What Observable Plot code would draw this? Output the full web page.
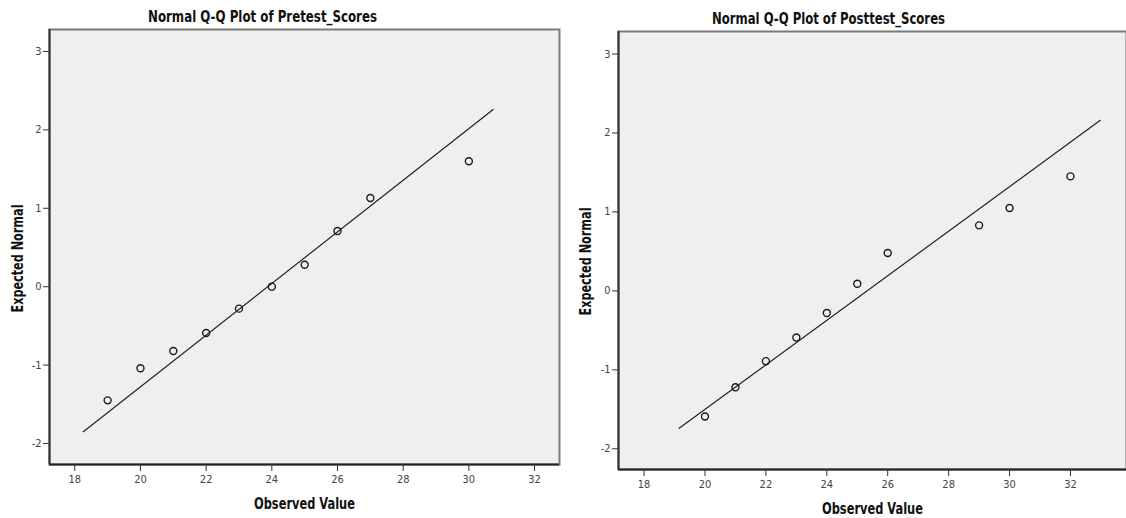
<!DOCTYPE html>
<html><head><meta charset="utf-8">
<script src="https://cdn.jsdelivr.net/npm/d3@7"></script>
<script src="https://cdn.jsdelivr.net/npm/@observablehq/plot@0.6"></script>
<style>
body{margin:0;background:#fff;}
#wrap{position:relative;width:1126px;height:518px;overflow:hidden;background:#fff;}
#left{position:absolute;left:0;top:0;}
#right{position:absolute;left:560px;top:0;}
</style></head><body>
<div id="wrap"><div id="left"></div><div id="right"></div></div>
<script>
// Pretest panel
const pretestTitle = "Normal Q-Q Plot of Pretest_Scores";
const pretestObserved = [19, 20, 21, 22, 23, 24, 25, 26, 27, 30];
const pretestExpected = [-1.45, -1.04, -0.82, -0.59, -0.28, 0.00, 0.28, 0.71, 1.13, 1.60];
const pretestLineX = [18.26, 30.74];
const pretestLineY = [-1.85, 2.26];

// Posttest panel
const posttestTitle = "Normal Q-Q Plot of Posttest_Scores";
const posttestObserved = [20, 21, 22, 23, 24, 25, 26, 29, 30, 32];
const posttestExpected = [-1.59, -1.22, -0.89, -0.59, -0.28, 0.09, 0.48, 0.83, 1.05, 1.45];
const posttestLineX = [19.15, 32.98];
const posttestLineY = [-1.74, 2.16];

// Shared axis ticks and labels
const xTicks = [18, 20, 22, 24, 26, 28, 30, 32];
const yTicks = [-2, -1, 0, 1, 2, 3];
const xLabel = "Observed Value";
const yLabel = "Expected Normal";

const FONT = "'Liberation Sans Narrow', 'Arial Narrow', 'DejaVu Sans Condensed', sans-serif";

function squeeze(svg, cls, len) {
  d3.select(svg).selectAll("." + cls + " text")
    .attr("textLength", len).attr("lengthAdjust", "spacingAndGlyphs");
}

function panel(cfg) {
  const pts = cfg.observed.map((x, i) => ({x, y: cfg.expected[i]}));
  const line = cfg.lineX.map((x, i) => ({x, y: cfg.lineY[i]}));
  const svg = Plot.plot({
    width: cfg.width, height: 518,
    marginLeft: cfg.ml, marginRight: cfg.mr, marginTop: cfg.mt, marginBottom: cfg.mb,
    style: {fontFamily: FONT, background: "transparent", overflow: "visible"},
    x: {domain: cfg.xDomain, axis: null},
    y: {domain: cfg.yDomain, axis: null},
    marks: [
      Plot.frame({fill: "#efefef", stroke: "#7a7a7a", strokeWidth: 2}),
      Plot.ruleX([cfg.xDomain[0]], {stroke: "#333", strokeWidth: 2}),
      Plot.ruleY([cfg.yDomain[0]], {stroke: "#222", strokeWidth: 2}),
      Plot.axisX({ticks: xTicks, tickSize: 7, tickPadding: 4, tickFormat: d => String(d), fontSize: 11, label: null, stroke: "#333", fill: "#444"}),
      Plot.axisY({ticks: yTicks, tickSize: 6, tickPadding: 2, tickFormat: d => String(d), fontSize: 11, label: null, stroke: "#333", fill: "#444"}),
      Plot.line(line, {x: "x", y: "y", stroke: "#222", strokeWidth: 1.2}),
      Plot.dot(pts, {x: "x", y: "y", r: 3.5, stroke: "#1a1a1a", strokeWidth: 1.4, fill: "none"}),
      Plot.text([cfg.title], {className: "ttl", frameAnchor: "top", text: d => d, dx: cfg.titleDx, dy: cfg.titleDy, fontSize: 16, fontWeight: "bold", fontFamily: FONT, fill: "#111", textAnchor: "middle", lineAnchor: "middle"}),
      Plot.text([xLabel], {className: "xlab", frameAnchor: "bottom", text: d => d, dy: 39, fontSize: 16.5, fontWeight: "bold", fontFamily: FONT, fill: "#111", textAnchor: "middle", lineAnchor: "middle"}),
      Plot.text([yLabel], {className: "ylab", frameAnchor: "left", text: d => d, dx: cfg.yLabelDx, dy: cfg.yLabelDy, rotate: -90, fontSize: 16, fontWeight: "bold", fontFamily: FONT, fill: "#111", textAnchor: "middle", lineAnchor: "middle"})
    ]
  });
  squeeze(svg, "ttl", cfg.titleLen);
  squeeze(svg, "xlab", 101);
  squeeze(svg, "ylab", 108);
  return svg;
}

document.getElementById("left").appendChild(panel({
  title: pretestTitle, observed: pretestObserved, expected: pretestExpected,
  lineX: pretestLineX, lineY: pretestLineY,
  width: 560, ml: 49, mr: 1, mt: 29, mb: 54,
  xDomain: [17.23, 32.76], yDomain: [-2.268, 3.28],
  titleDx: -42, titleDy: -13, titleLen: 229, yLabelDx: -32, yLabelDy: 11.5
}));

document.getElementById("right").appendChild(panel({
  title: posttestTitle, observed: posttestObserved, expected: posttestExpected,
  lineX: posttestLineX, lineY: posttestLineY,
  width: 566, ml: 58, mr: 0, mt: 31, mb: 49,
  xDomain: [17.16, 33.84], yDomain: [-2.262, 3.285],
  titleDx: -44, titleDy: -12.5, titleLen: 233, yLabelDx: -33, yLabelDy: 11
}));
</script>
</body></html>
